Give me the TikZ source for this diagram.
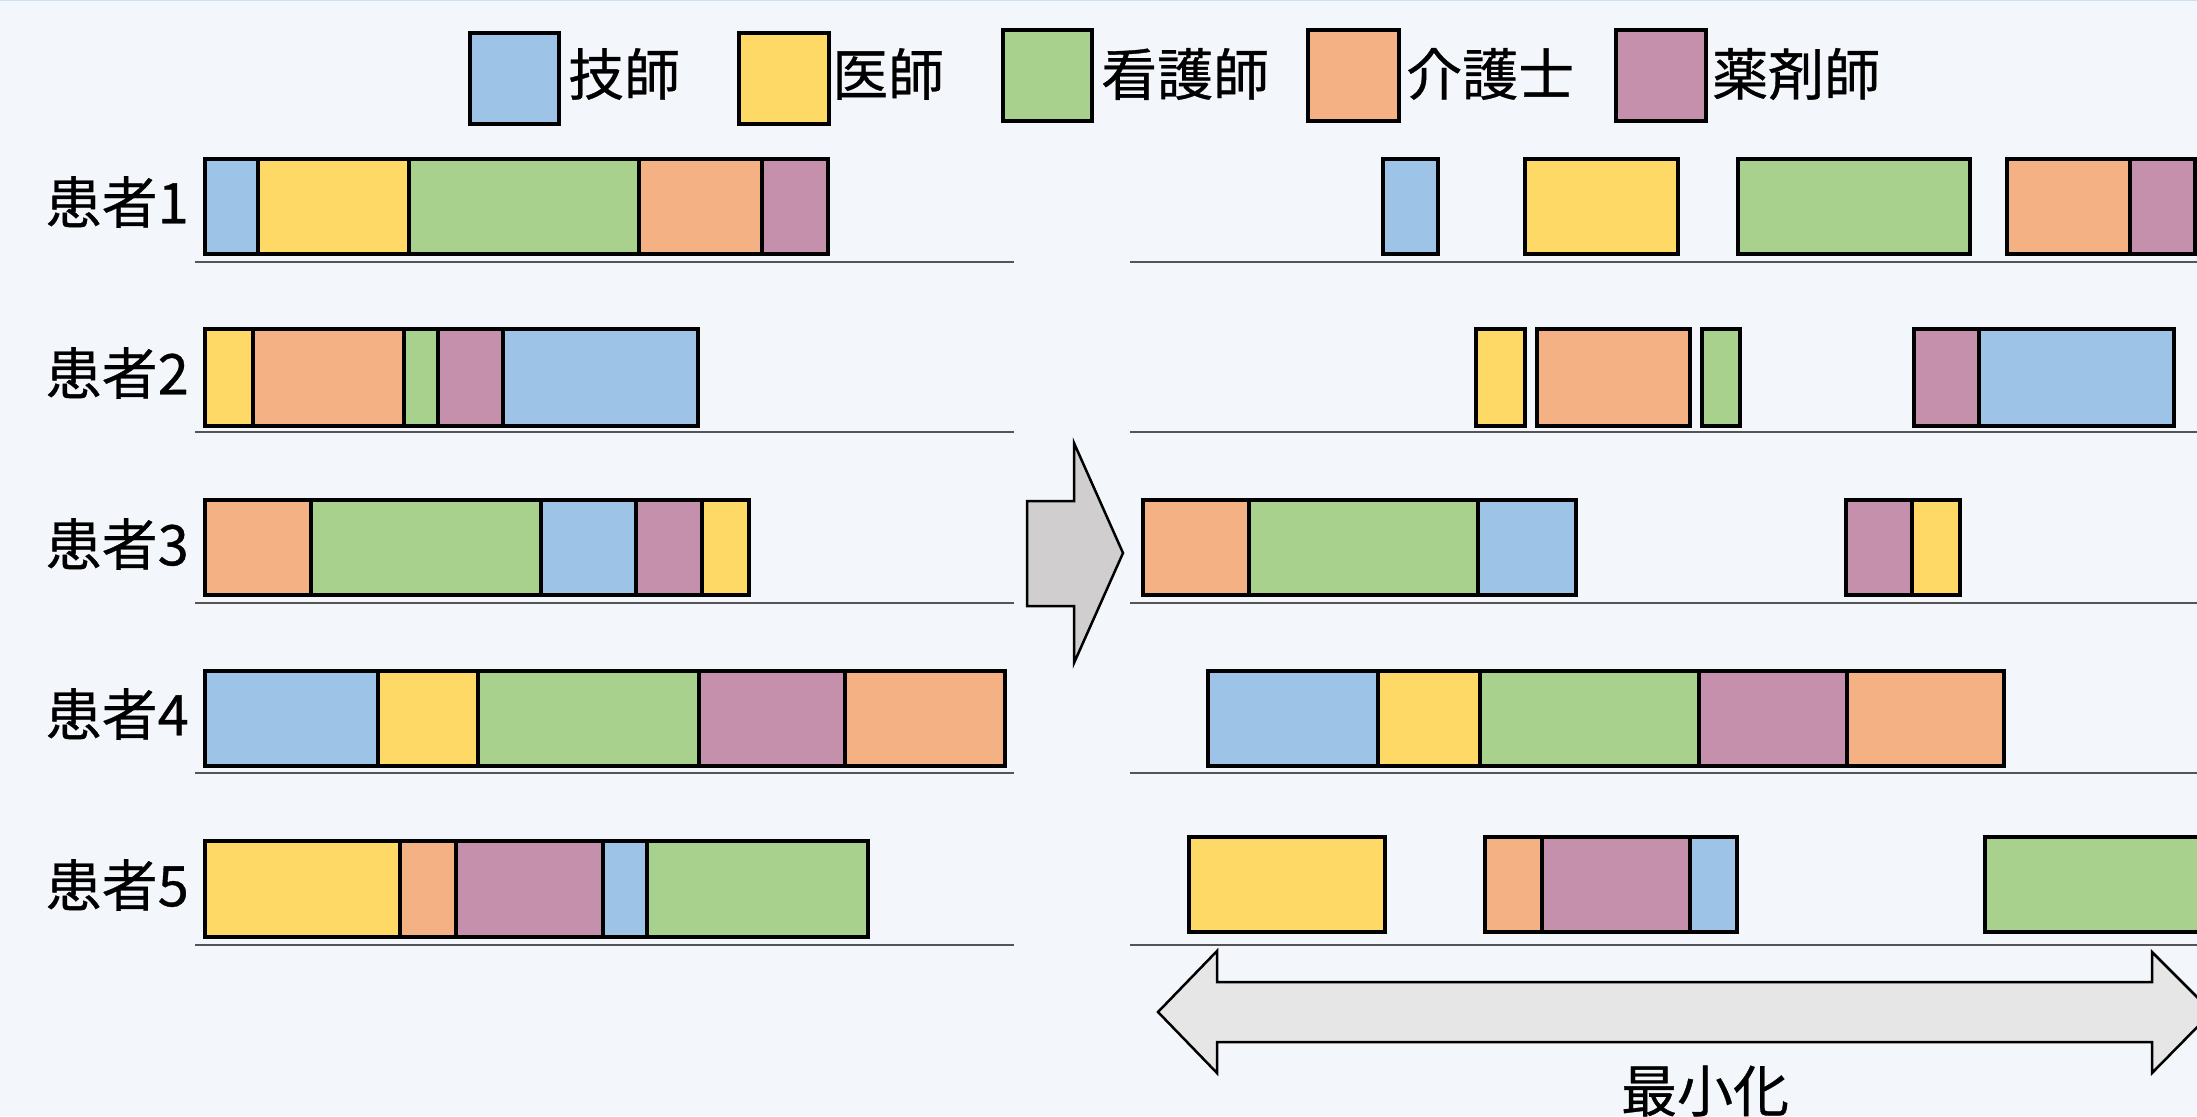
\documentclass[tikz,border=0pt]{standalone}
\usepackage{fontspec}
\newfontfamily\jp[FakeBold=0.6]{Noto Sans CJK JP}
\definecolor{bg}{HTML}{F3F6FB}
\definecolor{topline}{HTML}{CFDFF2}
\definecolor{cB}{HTML}{9DC3E6}
\definecolor{cY}{HTML}{FFD966}
\definecolor{cG}{HTML}{A9D18E}
\definecolor{cO}{HTML}{F4B183}
\definecolor{cP}{HTML}{C490AC}
\definecolor{arrowgray}{HTML}{D0CECE}
\definecolor{dblgray}{HTML}{E6E6E6}
\definecolor{baseln}{HTML}{555555}
\tikzset{
  segbox/.style={draw=black, line width=4.2pt},
  legbox/.style={draw=black, line width=4.2pt},
  baseline rule/.style={draw=baseln, line width=2pt},
  lbl/.style={font=\jp\fontsize{56}{60}\selectfont, inner sep=0pt, text=black},
  bigarrow/.style={draw=black, line width=2.5pt, line join=miter},
}
\newcommand{\seg}[5]{\draw[segbox, fill=#5] (#1,#3) rectangle (#2,#4);}
\begin{document}
\begin{tikzpicture}[x=1pt,y=-1pt]
\useasboundingbox (0,0) rectangle (2197,1116);
\fill[bg] (0,0) rectangle (2197,1116);
\clip (0,0) rectangle (2197,1116);
\draw[topline, line width=3pt] (0,0) -- (2197,0);

% legend
\draw[legbox, fill=cB] (470,33) rectangle (559,124);
\node[lbl, anchor=west] (lgB) at (568,74) {技師};
\draw[legbox, fill=cY] (739,33) rectangle (829,124);
\node[lbl, anchor=west] (lgY) at (832,74) {医師};
\draw[legbox, fill=cG] (1003,30) rectangle (1092,121);
\node[lbl, anchor=west] (lgG) at (1101,74) {看護師};
\draw[legbox, fill=cO] (1308,30) rectangle (1399,121);
\node[lbl, anchor=west] (lgO) at (1406,74) {介護士};
\draw[legbox, fill=cP] (1616,30) rectangle (1706,121);
\node[lbl, anchor=west] (lgP) at (1712,74) {薬剤師};

% row labels
\node[lbl, anchor=east] (p1) at (189,202) {患者1};
\node[lbl, anchor=east] (p2) at (189,373) {患者2};
\node[lbl, anchor=east] (p3) at (189,544) {患者3};
\node[lbl, anchor=east] (p4) at (189,714) {患者4};
\node[lbl, anchor=east] (p5) at (189,885) {患者5};

% base lines
\foreach \yy in {262,432,603,773,945} {
  \draw[baseline rule] (195,\yy) -- (1014,\yy);
  \draw[baseline rule] (1130,\yy) -- (2197,\yy);
}

% left rows
\seg{205}{258}{159}{254}{cB}\seg{258}{409}{159}{254}{cY}\seg{409}{639}{159}{254}{cG}\seg{639}{762}{159}{254}{cO}\seg{762}{828}{159}{254}{cP}
\seg{205}{253}{329}{426}{cY}\seg{253}{404}{329}{426}{cO}\seg{404}{438}{329}{426}{cG}\seg{438}{503}{329}{426}{cP}\seg{503}{698}{329}{426}{cB}
\seg{205}{311}{500}{595}{cO}\seg{311}{541}{500}{595}{cG}\seg{541}{636}{500}{595}{cB}\seg{636}{702}{500}{595}{cP}\seg{702}{749}{500}{595}{cY}
\seg{205}{378}{671}{766}{cB}\seg{378}{478}{671}{766}{cY}\seg{478}{699}{671}{766}{cG}\seg{699}{845}{671}{766}{cP}\seg{845}{1005}{671}{766}{cO}
\seg{205}{400}{841}{937}{cY}\seg{400}{456}{841}{937}{cO}\seg{456}{603}{841}{937}{cP}\seg{603}{647}{841}{937}{cB}\seg{647}{868}{841}{937}{cG}

% right rows
\seg{1383}{1438}{159}{254}{cB}\seg{1525}{1678}{159}{254}{cY}\seg{1738}{1970}{159}{254}{cG}\seg{2007}{2130}{159}{254}{cO}\seg{2130}{2195}{159}{254}{cP}
\seg{1476}{1525}{329}{426}{cY}\seg{1537}{1690}{329}{426}{cO}\seg{1702}{1740}{329}{426}{cG}\seg{1914}{1979}{329}{426}{cP}\seg{1979}{2174}{329}{426}{cB}
\seg{1143}{1249}{500}{595}{cO}\seg{1249}{1478}{500}{595}{cG}\seg{1478}{1576}{500}{595}{cB}\seg{1846}{1912}{500}{595}{cP}\seg{1912}{1960}{500}{595}{cY}
\seg{1208}{1378}{671}{766}{cB}\seg{1378}{1480}{671}{766}{cY}\seg{1480}{1699}{671}{766}{cG}\seg{1699}{1847}{671}{766}{cP}\seg{1847}{2004}{671}{766}{cO}
\seg{1189}{1385}{837}{932}{cY}\seg{1485}{1542}{837}{932}{cO}\seg{1542}{1690}{837}{932}{cP}\seg{1690}{1737}{837}{932}{cB}\seg{1985}{2210}{837}{932}{cG}

% transition arrow
\draw[bigarrow, fill=arrowgray] (1027,501) -- (1074,501) -- (1074,443) -- (1123,553) -- (1074,663) -- (1074,606) -- (1027,606) -- cycle;

% double arrow
\draw[bigarrow, fill=dblgray] (1158,1012) -- (1217,951) -- (1217,982) -- (2152,982) -- (2152,952) -- (2212,1012) -- (2152,1073) -- (2152,1042) -- (1217,1042) -- (1217,1073) -- cycle;
\node[lbl] (minim) at (1705,1091) {最小化};
\end{tikzpicture}
\end{document}
